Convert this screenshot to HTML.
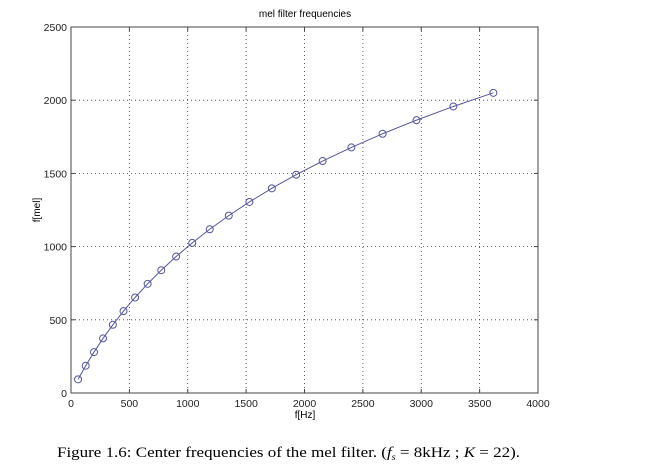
<!DOCTYPE html>
<html><head><style>
body{margin:0;background:#fff;width:654px;height:471px;overflow:hidden}
svg text{font-family:"Liberation Sans",sans-serif}
</style></head><body>
<svg id="s" width="654" height="471" xmlns="http://www.w3.org/2000/svg">
<rect x="71" y="27" width="467" height="366" fill="#fff" stroke="#444" stroke-width="1"/>
<g id="grid"></g>
<text x="305" y="17" font-size="10" text-anchor="middle">mel filter frequencies</text>
<text x="305" y="418" font-size="10" text-anchor="middle">f[Hz]</text>
<text transform="translate(40,210) rotate(-90)" font-size="10" text-anchor="middle">f[mel]</text>
<text x="57" y="457" font-size="15" textLength="463" lengthAdjust="spacingAndGlyphs" style="font-family:'Liberation Serif',serif">Figure 1.6: Center frequencies of the mel filter. (<tspan font-style="italic">f<tspan font-size="9" dy="3">s</tspan></tspan><tspan dy="-3"> = 8kHz ; </tspan><tspan font-style="italic">K</tspan> = 22).</text>
</svg>
<script>
var s=document.getElementById('grid'),h='';
function X(f){return 71+f*467/4000}
function Y(m){return 393-m*366/2500}
for(var i=0;i<=8;i++){var x=X(i*500);
 if(i>0&&i<8)h+='<line x1="'+x+'" y1="27" x2="'+x+'" y2="393" stroke="#333" stroke-dasharray="1,3" stroke-width="0.8"/>';
 h+='<line x1="'+x+'" y1="393" x2="'+x+'" y2="389" stroke="#444"/><line x1="'+x+'" y1="27" x2="'+x+'" y2="31" stroke="#444"/>';
 h+='<text x="'+x+'" y="407" font-size="10.5" text-anchor="middle" fill="#222">'+(i*500)+'</text>';}
for(var j=0;j<=5;j++){var y=Y(j*500);
 if(j>0&&j<5)h+='<line x1="71" y1="'+y+'" x2="538" y2="'+y+'" stroke="#333" stroke-dasharray="1,3" stroke-width="0.8"/>';
 h+='<line x1="71" y1="'+y+'" x2="75" y2="'+y+'" stroke="#444"/><line x1="538" y1="'+y+'" x2="534" y2="'+y+'" stroke="#444"/>';
 h+='<text x="67" y="'+(y+4)+'" font-size="10.5" text-anchor="end" fill="#222">'+(j*500)+'</text>';}
var pts=[];for(var k=1;k<=22;k++){var m=93.2*k,f=700*(Math.pow(10,m/2595)-1);pts.push([X(f),Y(m)]);}
h+='<polyline fill="none" stroke="#5555a0" stroke-width="1" points="'+pts.map(p=>p.join(',')).join(' ')+'"/>';
pts.forEach(p=>{h+='<circle cx="'+p[0]+'" cy="'+p[1]+'" r="3.5" fill="none" stroke="#5555a0" stroke-width="1"/>';});
s.innerHTML=h;
</script>
</body></html>
